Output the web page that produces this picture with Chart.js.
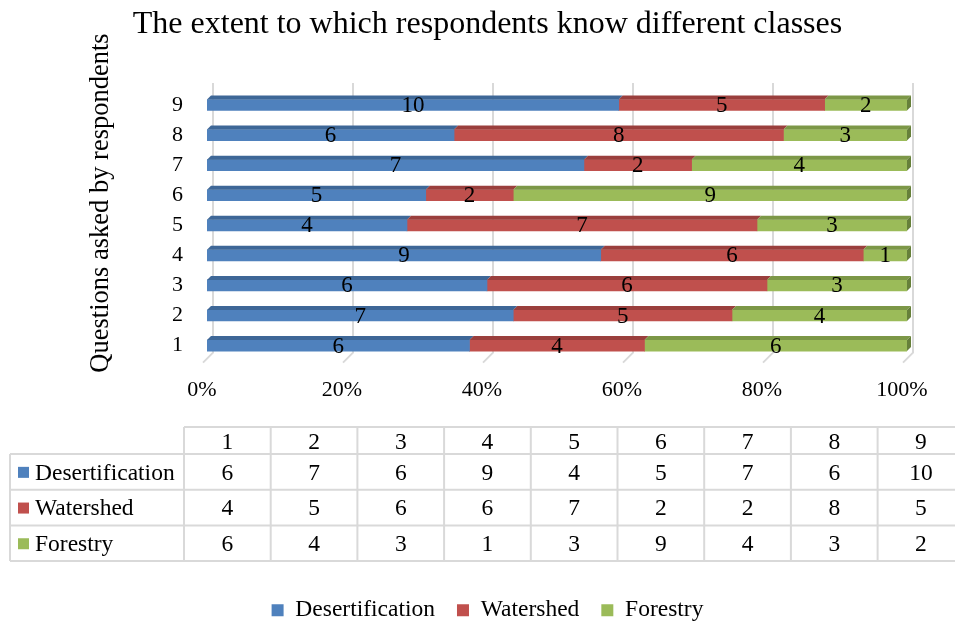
<!DOCTYPE html>
<html>
<head>
<meta charset="utf-8">
<script src="https://cdn.jsdelivr.net/npm/chart.js@4.4.1/dist/chart.umd.min.js"></script>
<style>
  html, body { margin: 0; padding: 0; background: #fff; }
</style>
</head>
<body>
<canvas id="chart" width="955" height="621"></canvas>
<script>
// Chart data
const categories = ['1', '2', '3', '4', '5', '6', '7', '8', '9'];
const desertification = [6, 7, 6, 9, 4, 5, 7, 6, 10];
const watershed = [4, 5, 6, 6, 7, 2, 2, 8, 5];
const forestry = [6, 4, 3, 1, 3, 9, 4, 3, 2];
const seriesNames = ['Desertification', 'Watershed', 'Forestry'];
const xTicks = [0, 20, 40, 60, 80, 100];
const chartTitle = 'The extent to which respondents know different classes';
const yTitle = 'Questions asked by respondents';

const FONT = "'Liberation Serif', 'Times New Roman', serif";
const rawSeries = [desertification, watershed, forestry];
const totals = categories.map((c, i) => rawSeries.reduce((s, arr) => s + arr[i], 0));
const toPercent = arr => arr.map((v, i) => v / totals[i] * 100);

Chart.defaults.font.family = FONT;
Chart.defaults.color = '#000';

// back wall gridlines with a small floor stub
const grid3d = {
    id: 'grid3d',
    beforeDatasetsDraw(chart) {
        const { ctx, chartArea: a, scales: { x } } = chart;
        ctx.save();
        ctx.strokeStyle = '#d9d9d9';
        ctx.lineWidth = 2;
        xTicks.forEach(v => {
            const px = x.getPixelForValue(v);
            ctx.beginPath();
            ctx.moveTo(px + 6, a.top - 7);
            ctx.lineTo(px + 6, a.bottom - 8);
            ctx.lineTo(px - 4, a.bottom + 2);
            ctx.stroke();
        });
        ctx.restore();
    }
};

// top and end faces so the bars look like the 3D ones
const bar3d = {
    id: 'bar3d',
    afterDatasetsDraw(chart) {
        const { ctx } = chart;
        const d = 4;
        const last = chart.data.datasets.length - 1;
        ctx.save();
        chart.data.datasets.forEach((ds, di) => {
            chart.getDatasetMeta(di).data.forEach(bar => {
                const { x, y, base, height } = bar.getProps(['x', 'y', 'base', 'height'], true);
                const top = y - height / 2;
                ctx.fillStyle = ds.topColor;
                ctx.beginPath();
                ctx.moveTo(base, top);
                ctx.lineTo(base + d, top - d);
                ctx.lineTo(x + d, top - d);
                ctx.lineTo(x, top);
                ctx.closePath();
                ctx.fill();
                if (di === last) {
                    ctx.fillStyle = ds.sideColor;
                    ctx.beginPath();
                    ctx.moveTo(x, top);
                    ctx.lineTo(x + d, top - d);
                    ctx.lineTo(x + d, top + height - d);
                    ctx.lineTo(x, top + height);
                    ctx.closePath();
                    ctx.fill();
                }
            });
        });
        ctx.restore();
    }
};

// raw counts written in the middle of each segment
const valueLabels = {
    id: 'valueLabels',
    afterDatasetsDraw(chart) {
        const { ctx } = chart;
        ctx.save();
        ctx.font = '23px ' + FONT;
        ctx.fillStyle = '#000';
        ctx.textAlign = 'center';
        ctx.textBaseline = 'middle';
        chart.data.datasets.forEach((ds, di) => {
            chart.getDatasetMeta(di).data.forEach((bar, i) => {
                const { x, y, base } = bar.getProps(['x', 'y', 'base'], true);
                ctx.fillText(String(rawSeries[di][i]), (x + base) / 2, y + 1);
            });
        });
        ctx.restore();
    }
};

// rotated axis title, placed like the original
const axisTitle = {
    id: 'axisTitle',
    afterDraw(chart) {
        const { ctx } = chart;
        ctx.save();
        ctx.translate(101, 203);
        ctx.rotate(-Math.PI / 2);
        ctx.font = '26.5px ' + FONT;
        ctx.fillStyle = '#000';
        ctx.textAlign = 'center';
        ctx.textBaseline = 'middle';
        ctx.fillText(yTitle, 0, 0);
        ctx.restore();
    }
};

// data table under the axis
const dataTable = {
    id: 'dataTable',
    afterDraw(chart) {
        const { ctx } = chart;
        const left = 10, firstCol = 184, colW = 86.7;
        const headTop = 427, headBottom = 454, rowH = 35.7;
        const right = firstCol + colW * categories.length;
        const bottom = headBottom + rowH * seriesNames.length;
        const colors = chart.data.datasets.map(ds => ds.backgroundColor);
        ctx.save();
        ctx.strokeStyle = '#d9d9d9';
        ctx.lineWidth = 2;
        ctx.beginPath();
        ctx.moveTo(firstCol, headTop);
        ctx.lineTo(right, headTop);
        for (let r = 0; r <= seriesNames.length; r++) {
            const y = headBottom + r * rowH;
            ctx.moveTo(left, y);
            ctx.lineTo(right, y);
        }
        ctx.moveTo(left, headBottom);
        ctx.lineTo(left, bottom);
        for (let c = 0; c <= categories.length; c++) {
            const x = firstCol + c * colW;
            ctx.moveTo(x, headTop);
            ctx.lineTo(x, bottom);
        }
        ctx.stroke();

        ctx.font = '23.5px ' + FONT;
        ctx.fillStyle = '#000';
        ctx.textBaseline = 'middle';
        ctx.textAlign = 'center';
        categories.forEach((c, i) => {
            ctx.fillText(c, firstCol + colW * (i + 0.5), (headTop + headBottom) / 2 + 2);
        });
        seriesNames.forEach((name, r) => {
            const cy = headBottom + rowH * (r + 0.5) + 1.5;
            ctx.fillStyle = colors[r];
            ctx.fillRect(18, cy - 6.5, 11, 11);
            ctx.fillStyle = '#000';
            ctx.textAlign = 'left';
            ctx.fillText(name, 35, cy);
            ctx.textAlign = 'center';
            rawSeries[r].forEach((v, i) => {
                ctx.fillText(String(v), firstCol + colW * (i + 0.5), cy);
            });
        });
        ctx.restore();
    }
};

new Chart(document.getElementById('chart'), {
    type: 'bar',
    data: {
        labels: categories,
        datasets: [
            { label: seriesNames[0], data: toPercent(desertification), backgroundColor: '#4f81bd', topColor: '#3e6797', sideColor: '#34577f' },
            { label: seriesNames[1], data: toPercent(watershed), backgroundColor: '#c0504d', topColor: '#9a3f3d', sideColor: '#813432' },
            { label: seriesNames[2], data: toPercent(forestry), backgroundColor: '#9bbb59', topColor: '#7c9747', sideColor: '#66803a' }
        ]
    },
    options: {
        indexAxis: 'y',
        responsive: false,
        animation: false,
        datasets: { bar: { barThickness: 11, borderWidth: 0 } },
        layout: { padding: { left: 20, right: 0, top: 0, bottom: -11 } },
        scales: {
            x: {
                stacked: true,
                min: 0,
                max: 100,
                afterBuildTicks: s => { s.ticks = xTicks.map(v => ({ value: v })); },
                afterFit: s => { s.height = 215.9; },
                grid: { display: false, drawTicks: false },
                border: { display: false },
                ticks: { font: { size: 22 }, padding: 16, labelOffset: -5, callback: v => v + '%' }
            },
            y: {
                stacked: true,
                reverse: true,
                afterFit: s => { s.width = 187; },
                grid: { display: false, drawTicks: false },
                border: { display: false },
                ticks: { font: { size: 22 }, padding: 24 }
            },
            yRight: {
                position: 'right',
                afterFit: s => { s.width = 48; },
                grid: { display: false, drawTicks: false },
                border: { display: false },
                ticks: { display: false }
            }
        },
        plugins: {
            title: {
                display: true,
                text: chartTitle,
                color: '#000',
                font: { size: 32, weight: 'normal' },
                padding: { top: 5, bottom: 46.6 }
            },
            legend: {
                position: 'bottom',
                labels: { font: { size: 23.5 }, boxWidth: 12, boxHeight: 12, padding: 22, color: '#000' }
            },
            tooltip: { enabled: false }
        }
    },
    plugins: [grid3d, bar3d, valueLabels, axisTitle, dataTable]
});
</script>
</body>
</html>
